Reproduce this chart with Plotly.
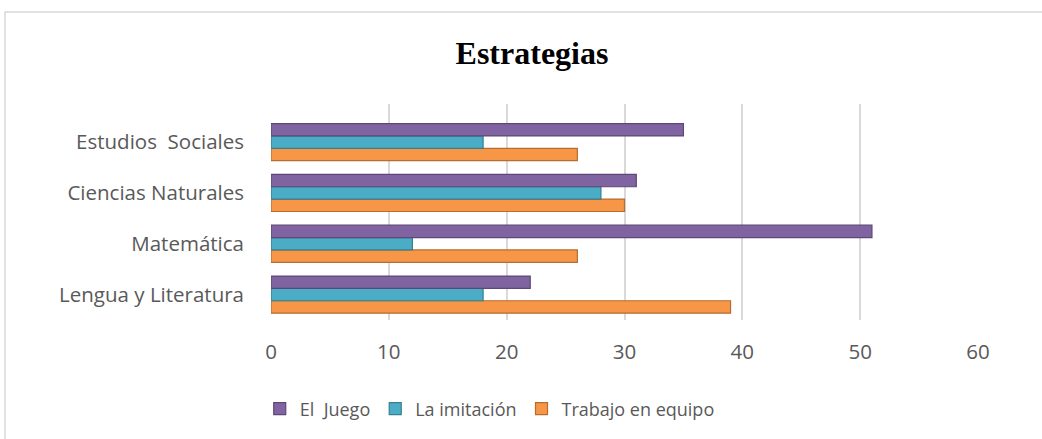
import plotly.graph_objects as go

categories = ["Lengua y Literatura", "Matemática", "Ciencias Naturales", "Estudios\u00a0 Sociales"]
series_names = ["Trabajo en equipo", "La imitación", "El\u00a0 Juego"]
trabajo = [39, 26, 30, 26]
imitacion = [18, 12, 28, 18]
juego = [22, 51, 31, 35]
x_ticks = [0, 10, 20, 30, 40, 50, 60]

colors = {"Trabajo en equipo": "#F79646", "La imitación": "#4BACC6", "El\u00a0 Juego": "#8064A2"}
edges = {"Trabajo en equipo": "#B66D31", "La imitación": "#357F93", "El\u00a0 Juego": "#5C4776"}
values = {"Trabajo en equipo": trabajo, "La imitación": imitacion, "El\u00a0 Juego": juego}

fig = go.Figure()
for i, name in enumerate(series_names):
    fig.add_trace(go.Bar(
        y=categories, x=values[name], name=name, orientation="h",
        marker=dict(color=colors[name], line=dict(color=edges[name], width=1.2)),
        legendrank=3 - i,
    ))

W, H = 1042, 439
ml, mr, mt, mb = 271, 64, 104, 119
pw, ph = W - ml - mr, H - mt - mb

def px_to_paper_x(px):
    return (px - ml) / pw

def px_to_paper_y(py):
    return (H - mb - py) / ph

fig.update_layout(
    width=W, height=H,
    margin=dict(l=ml, r=mr, t=mt, b=mb),
    paper_bgcolor="white", plot_bgcolor="white",
    barmode="group", bargap=0.27, bargroupgap=0,
    title=dict(text="<b>Estrategias</b>", x=532 / W, xref="container", xanchor="center",
               y=1 - 53 / H, yref="container", yanchor="middle",
               font=dict(family="Liberation Serif", size=32, color="black")),
    font=dict(family="Open Sans", color="#595959"),
    xaxis=dict(range=[0, 60], tickvals=x_ticks, showgrid=True, gridcolor="#D9D9D9", gridwidth=2,
               zeroline=False, showline=False, tickfont=dict(size=20.5, color="#595959"),
               ticklabelstandoff=17),
    yaxis=dict(range=[-0.5, 3.75], showgrid=False, zeroline=False, showline=False,
               tickfont=dict(size=20.5, color="#595959"), ticklabelstandoff=26),
    legend=dict(orientation="h", x=0.47, xanchor="center", xref="container",
                y=1 - 409 / H, yref="container", yanchor="middle",
                font=dict(size=18, color="#595959"), traceorder="normal"),
    shapes=[dict(type="rect", xref="paper", yref="paper",
                 x0=px_to_paper_x(5), x1=px_to_paper_x(1050),
                 y0=px_to_paper_y(450), y1=px_to_paper_y(12),
                 line=dict(color="#D9D9D9", width=1.5), fillcolor="rgba(0,0,0,0)", layer="below")],
)

fig.write_html("out.html", config={"displayModeBar": False},
               post_script="document.body.style.margin='0';document.body.style.overflow='hidden';")
